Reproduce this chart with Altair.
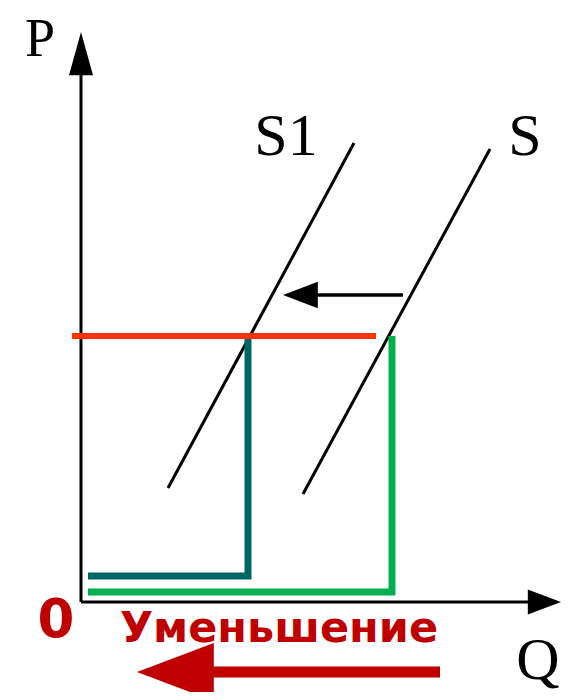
import altair as alt
import pandas as pd

# ---- coordinate frame (economic units: Q horizontal, P vertical) ----
X_DOM = [-1.825, 12.0]
Y_DOM = [-2.25, 14.85]

# axes
axis_q_end = 11.2      # end of Q axis line
axis_p_end = 13.2      # end of P axis line
axis_q_tip = 12.0
axis_p_tip = 14.25

# supply curves (bottom, top)
s1_q = [2.175, 6.825]
s1_p = [2.85, 11.475]
s_q = [5.55, 10.225]
s_p = [2.7, 11.325]

# price level and quantities
price_level = 6.65
price_q = [-0.225, 7.375]
q_new = 4.175
q_old = 7.775
q_start = 0.175
p_new_base = 0.65
p_old_base = 0.25
p_new_top = 6.575

# shift arrow (black)
shift_p = 7.675
shift_q = [5.9, 8.05]
shift_tip = 5.05
shift_half = 0.33

# decrease arrow (red)
dec_p = -1.75
dec_q = [3.3, 8.975]
dec_tip = 1.4
dec_half = 0.725

# labels
labels = ["P", "S1", "S", "Q"]
label_q = [-1.025, 5.125, 11.1, 11.425]
label_p = [13.65, 11.175, 11.175, -1.925]
label_size = [54, 60, 60, 60]

xs = alt.Scale(domain=X_DOM, nice=False, zero=False)
ys = alt.Scale(domain=Y_DOM, nice=False, zero=False)


def X(f="x"):
    return alt.X(f"{f}:Q", scale=xs, axis=None)


def Y(f="y"):
    return alt.Y(f"{f}:Q", scale=ys, axis=None)


# thin black segments
seg = pd.DataFrame({
    "x": [0, 0, s1_q[0], s_q[0], shift_q[0]],
    "y": [0, 0, s1_p[0], s_p[0], shift_p],
    "x2": [0, axis_q_end, s1_q[1], s_q[1], shift_q[1]],
    "y2": [axis_p_end, 0, s1_p[1], s_p[1], shift_p],
    "w": [3, 3, 3, 3, 3.5],
})
black_lines = alt.Chart(seg).mark_rule(color="black", strokeCap="butt").encode(
    x=X(), y=Y(), x2="x2:Q", y2="y2:Q",
    strokeWidth=alt.StrokeWidth("w:Q", scale=None, legend=None),
)


# arrowheads pointing left/right (vertical orient areas)
def h_head(tip, base, center, half, color):
    df = pd.DataFrame({"x": [tip, base], "y": [center, center + half],
                       "y2": [center, center - half]})
    return alt.Chart(df).mark_area(color=color, opacity=1).encode(
        x=X(), y=Y(), y2="y2:Q")


def v_head(tip, base, center, half, color):
    df = pd.DataFrame({"y": [tip, base], "x": [center, center - half],
                       "x2": [center, center + half]})
    return alt.Chart(df).mark_area(color=color, opacity=1, orient="horizontal").encode(
        y=Y(), x=X(), x2="x2:Q")


heads = [
    v_head(axis_p_tip, axis_p_end - 0.03, 0, 0.3, "black"),
    h_head(axis_q_tip, axis_q_end - 0.03, 0, 0.31, "black"),
    h_head(shift_tip, shift_q[0] + 0.02, shift_p, shift_half, "black"),
    h_head(dec_tip, dec_q[0] + 0.02, dec_p, dec_half, "#C00000"),
]

# price line
price = alt.Chart(pd.DataFrame({"x": [price_q[0]], "x2": [price_q[1]],
                                "y": [price_level]})).mark_rule(
    color="#FF3300", strokeWidth=6, strokeCap="butt").encode(x=X(), x2="x2:Q", y=Y())

# red decrease shaft
dec_shaft = alt.Chart(pd.DataFrame({"x": [dec_q[0]], "x2": [dec_q[1]],
                                    "y": [dec_p]})).mark_rule(
    color="#C00000", strokeWidth=11, strokeCap="butt").encode(x=X(), x2="x2:Q", y=Y())


# quantity brackets
def bracket(q, pbase, ptop, color):
    df = pd.DataFrame({"x": [q_start, q, q], "y": [pbase, pbase, ptop], "i": [0, 1, 2]})
    return alt.Chart(df).mark_line(color=color, strokeWidth=7, strokeJoin="miter",
                                   strokeCap="butt").encode(
        x=X(), y=Y(), order="i:O")


teal = bracket(q_new, p_new_base, p_new_top, "#006666")
green = bracket(q_old, p_old_base, price_level, "#00B050")

lab = alt.Chart(pd.DataFrame({"t": labels, "x": label_q, "y": label_p,
                              "s": label_size})).mark_text(
    font="Liberation Serif", baseline="alphabetic", align="center",
    color="black").encode(x=X(), y=Y(), text="t:N",
                          size=alt.Size("s:Q", scale=None, legend=None))

zero = alt.Chart(pd.DataFrame({"t": ["0"], "x": [-0.625], "y": [-0.875]})).mark_text(
    font="DejaVu Sans", fontWeight="bold", fontSize=53, baseline="alphabetic",
    align="center", color="#C00000").encode(x=X(), y=Y(), text="t:N")

dec_text = alt.Chart(pd.DataFrame({"t": ["Уменьшение"], "x": [4.95], "y": [-1.0]})).mark_text(
    font="DejaVu Sans", fontWeight="bold", fontSize=43, baseline="alphabetic",
    align="center", color="#C00000").encode(x=X(), y=Y(), text="t:N")

chart = alt.layer(
    black_lines, *heads, teal, green, price, dec_shaft, lab, zero, dec_text
).properties(
    width=553, height=684, padding=0,
    autosize=alt.AutoSizeParams(type="none"),
).configure_view(stroke=None)

chart.save("out.html", embed_options={"renderer": "svg", "actions": False})
